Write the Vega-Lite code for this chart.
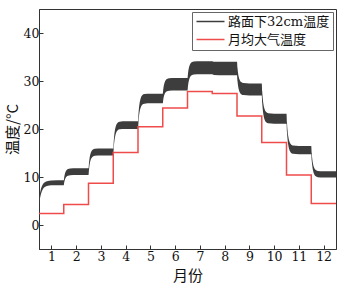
{
  "$schema": "https://vega.github.io/schema/vega-lite/v6.json",
  "width": 297,
  "height": 240,
  "autosize": "none",
  "padding": {"left": 39, "top": 9, "right": 4, "bottom": 35},
  "background": "white",
  "config": {
    "view": {"stroke": "#333333", "strokeWidth": 1},
    "axis": {
      "grid": false,
      "domainColor": "#333333",
      "tickColor": "#333333",
      "labelOverlap": false,
      "labelFont": "DejaVu Serif"
    }
  },
  "datasets": {
    "band": [
      {"t": 0.5, "lo": 4.2, "hi": 5.4},
      {"t": 0.53, "lo": 5.27, "hi": 6.41},
      {"t": 0.56, "lo": 6.05, "hi": 7.15},
      {"t": 0.6, "lo": 6.78, "hi": 7.86},
      {"t": 0.65, "lo": 7.4, "hi": 8.44},
      {"t": 0.72, "lo": 7.85, "hi": 8.87},
      {"t": 0.82, "lo": 8.14, "hi": 9.14},
      {"t": 1.0, "lo": 8.27, "hi": 9.27},
      {"t": 1.5, "lo": 8.3, "hi": 9.3},
      {"t": 1.52, "lo": 8.89, "hi": 10.0},
      {"t": 1.54, "lo": 9.33, "hi": 10.53},
      {"t": 1.57, "lo": 9.75, "hi": 11.03},
      {"t": 1.61, "lo": 10.06, "hi": 11.4},
      {"t": 1.67, "lo": 10.27, "hi": 11.65},
      {"t": 1.76, "lo": 10.37, "hi": 11.77},
      {"t": 2.0, "lo": 10.4, "hi": 11.8},
      {"t": 2.5, "lo": 10.4, "hi": 11.8},
      {"t": 2.52, "lo": 11.54, "hi": 12.95},
      {"t": 2.54, "lo": 12.4, "hi": 13.82},
      {"t": 2.57, "lo": 13.21, "hi": 14.64},
      {"t": 2.61, "lo": 13.83, "hi": 15.26},
      {"t": 2.67, "lo": 14.24, "hi": 15.67},
      {"t": 2.76, "lo": 14.43, "hi": 15.87},
      {"t": 3.0, "lo": 14.48, "hi": 15.92},
      {"t": 3.5, "lo": 14.48, "hi": 15.92},
      {"t": 3.52, "lo": 16.03, "hi": 17.51},
      {"t": 3.54, "lo": 17.19, "hi": 18.7},
      {"t": 3.57, "lo": 18.29, "hi": 19.84},
      {"t": 3.61, "lo": 19.12, "hi": 20.69},
      {"t": 3.67, "lo": 19.67, "hi": 21.26},
      {"t": 3.76, "lo": 19.93, "hi": 21.53},
      {"t": 4.0, "lo": 20.0, "hi": 21.6},
      {"t": 4.5, "lo": 20.0, "hi": 21.6},
      {"t": 4.52, "lo": 21.5, "hi": 23.21},
      {"t": 4.54, "lo": 22.62, "hi": 24.42},
      {"t": 4.57, "lo": 23.69, "hi": 25.57},
      {"t": 4.61, "lo": 24.49, "hi": 26.43},
      {"t": 4.67, "lo": 25.03, "hi": 27.01},
      {"t": 4.76, "lo": 25.28, "hi": 27.28},
      {"t": 5.0, "lo": 25.35, "hi": 27.35},
      {"t": 5.5, "lo": 25.35, "hi": 27.35},
      {"t": 5.52, "lo": 26.09, "hi": 28.26},
      {"t": 5.54, "lo": 26.65, "hi": 28.94},
      {"t": 5.57, "lo": 27.18, "hi": 29.59},
      {"t": 5.61, "lo": 27.58, "hi": 30.08},
      {"t": 5.67, "lo": 27.84, "hi": 30.41},
      {"t": 5.76, "lo": 27.97, "hi": 30.56},
      {"t": 6.0, "lo": 28.0, "hi": 30.6},
      {"t": 6.5, "lo": 28.0, "hi": 30.6},
      {"t": 6.52, "lo": 28.95, "hi": 31.58},
      {"t": 6.54, "lo": 29.67, "hi": 32.32},
      {"t": 6.57, "lo": 30.35, "hi": 33.02},
      {"t": 6.61, "lo": 30.86, "hi": 33.54},
      {"t": 6.67, "lo": 31.2, "hi": 33.89},
      {"t": 6.76, "lo": 31.36, "hi": 34.05},
      {"t": 7.0, "lo": 31.4, "hi": 34.1},
      {"t": 7.5, "lo": 31.4, "hi": 34.1},
      {"t": 7.56, "lo": 31.25, "hi": 34.0},
      {"t": 8.0, "lo": 31.2, "hi": 34.0},
      {"t": 8.5, "lo": 31.2, "hi": 34.0},
      {"t": 8.52, "lo": 30.02, "hi": 32.74},
      {"t": 8.54, "lo": 29.14, "hi": 31.79},
      {"t": 8.57, "lo": 28.3, "hi": 30.89},
      {"t": 8.61, "lo": 27.67, "hi": 30.22},
      {"t": 8.67, "lo": 27.25, "hi": 29.77},
      {"t": 8.76, "lo": 27.06, "hi": 29.56},
      {"t": 9.0, "lo": 27.0, "hi": 29.5},
      {"t": 9.5, "lo": 27.0, "hi": 29.5},
      {"t": 9.52, "lo": 25.35, "hi": 27.74},
      {"t": 9.54, "lo": 24.11, "hi": 26.41},
      {"t": 9.57, "lo": 22.93, "hi": 25.15},
      {"t": 9.61, "lo": 22.04, "hi": 24.21},
      {"t": 9.67, "lo": 21.45, "hi": 23.58},
      {"t": 9.76, "lo": 21.18, "hi": 23.28},
      {"t": 10.0, "lo": 21.1, "hi": 23.2},
      {"t": 10.5, "lo": 21.1, "hi": 23.2},
      {"t": 10.52, "lo": 19.32, "hi": 21.31},
      {"t": 10.54, "lo": 17.99, "hi": 19.89},
      {"t": 10.57, "lo": 16.72, "hi": 18.54},
      {"t": 10.61, "lo": 15.77, "hi": 17.53},
      {"t": 10.67, "lo": 15.13, "hi": 16.86},
      {"t": 10.76, "lo": 14.83, "hi": 16.54},
      {"t": 11.0, "lo": 14.75, "hi": 16.45},
      {"t": 11.5, "lo": 14.75, "hi": 16.45},
      {"t": 11.52, "lo": 13.39, "hi": 14.98},
      {"t": 11.54, "lo": 12.37, "hi": 13.88},
      {"t": 11.57, "lo": 11.4, "hi": 12.83},
      {"t": 11.61, "lo": 10.68, "hi": 12.04},
      {"t": 11.67, "lo": 10.19, "hi": 11.52},
      {"t": 11.76, "lo": 9.96, "hi": 11.27},
      {"t": 12.0, "lo": 9.9, "hi": 11.2},
      {"t": 12.5, "lo": 9.9, "hi": 11.2}
    ],
    "air": [
      {"t": 0.5, "v": 2.4},
      {"t": 1.5, "v": 4.25},
      {"t": 2.5, "v": 8.7},
      {"t": 3.5, "v": 15.1},
      {"t": 4.5, "v": 20.45},
      {"t": 5.5, "v": 24.4},
      {"t": 6.5, "v": 27.8},
      {"t": 7.5, "v": 27.4},
      {"t": 8.5, "v": 22.7},
      {"t": 9.5, "v": 17.2},
      {"t": 10.5, "v": 10.4},
      {"t": 11.5, "v": 4.5},
      {"t": 12.5, "v": 4.5}
    ]
  },
  "encoding": {
    "x": {
      "field": "t", "type": "quantitative",
      "scale": {"domain": [0.5, 12.5], "nice": false, "zero": false},
      "axis": {
        "values": [1,2,3,4,5,6,7,8,9,10,11,12],
        "tickSize": -4,
        "labelOverlap": false,
        "labelFont": "DejaVu Serif",
        "labelFontSize": 12.5,
        "labelColor": "#111111",
        "labelPadding": 5,
        "title": "月份",
        "titleFont": "Noto Sans CJK SC",
        "titleFontSize": 15,
        "titleFontWeight": "normal",
        "titleColor": "#111111",
        "titleBaseline": "middle",
        "titleY": 26
      }
    }
  },
  "layer": [
    {
      "data": {"name": "band"},
      "mark": {"type": "area", "interpolate": "monotone", "opacity": 1},
      "encoding": {
        "y": {
          "field": "lo", "type": "quantitative",
          "scale": {"domain": [-5, 45], "nice": false, "zero": false},
          "axis": {
            "values": [0, 10, 20, 30, 40],
            "tickSize": -4,
            "labelOverlap": false,
            "labelFont": "DejaVu Serif",
            "labelFontSize": 12.5,
            "labelColor": "#111111",
            "labelPadding": 4,
            "title": "温度/°C",
            "titleFont": "Noto Sans CJK SC",
            "titleFontSize": 15,
            "titleFontWeight": "normal",
            "titleColor": "#111111",
            "titleX": -27,
            "titleY": 120,
            "titleBaseline": "middle",
            "titleAlign": "center"
          }
        },
        "y2": {"field": "hi"},
        "color": {
          "datum": "路面下32cm温度",
          "type": "nominal",
          "scale": {"domain": ["路面下32cm温度", "月均大气温度"], "range": ["#3d3d3d", "#ef4b4b"]},
          "legend": {
            "title": null,
            "orient": "top-right",
            "offset": 3,
            "strokeColor": "#666666",
            "fillColor": "white",
            "padding": 3,
            "symbolType": "M-1,0H4.6",
            "symbolSize": 100,
            "symbolStrokeWidth": 1.5,
            "labelOffset": 20,
            "labelFont": "DejaVu Serif, Noto Sans CJK SC",
            "labelFontSize": 13,
            "labelColor": "#111111",
            "rowPadding": 4,
            "encode": {
              "symbols": {
                "update": {
                  "stroke": {"scale": "color", "field": "value"},
                  "strokeWidth": {"signal": "datum.value === '路面下32cm温度' ? 1 : 1.5"},
                  "fill": {"value": "transparent"}
                }
              }
            }
          }
        }
      }
    },
    {
      "data": {"name": "air"},
      "mark": {"type": "line", "interpolate": "step-after", "strokeWidth": 1.5},
      "encoding": {
        "y": {"field": "v", "type": "quantitative"},
        "color": {"datum": "月均大气温度", "type": "nominal"}
      }
    }
  ]
}
